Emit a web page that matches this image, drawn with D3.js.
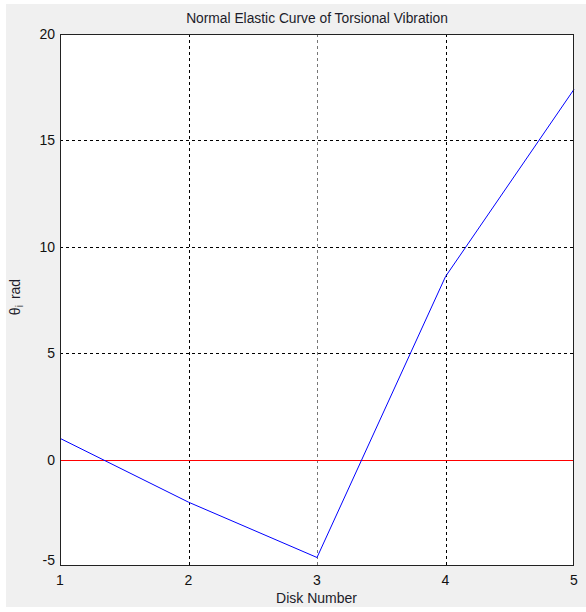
<!DOCTYPE html>
<html>
<head>
<meta charset="utf-8">
<title>Normal Elastic Curve</title>
<script src="https://d3js.org/d3.v7.min.js"></script>
<style>
  body { margin: 0; background: #fff; }
  text { font-family: 'Liberation Sans', Arial, sans-serif; fill: #1c1c2a; }
</style>
</head>
<body>
<svg width="586" height="612"></svg>
<script>
// disk numbers and the normalised angle for each
var disks = [1, 2, 3, 4, 5];
var theta = [1.0, -2.0, -4.6, 8.6, 17.4];
var yTicks = [-5, 0, 5, 10, 15, 20];
var xTicks = [1, 2, 3, 4, 5];

var svg = d3.select("svg");
var pL = 60, pR = 574, pT = 34, pB = 566;

// figure background
svg.append("rect").attr("x", 6).attr("y", 4).attr("width", 580).attr("height", 603).attr("fill", "#f0f0f0");
svg.append("rect").attr("x", pL).attr("y", pT).attr("width", pR - pL).attr("height", pB - pT).attr("fill", "#fff");

var x = d3.scaleLinear().domain([1, 5]).range([pL, pR]);
var y = d3.scaleLinear().domain([-5, 20]).range([pB, pT]);

// grid
svg.append("g").selectAll("line").data(xTicks.slice(1, -1)).join("line")
    .attr("x1", function(d) { return Math.round(x(d)) + 0.5; })
    .attr("x2", function(d) { return Math.round(x(d)) + 0.5; })
    .attr("y1", pT).attr("y2", pB)
    .attr("stroke", function(d) { return d === 3 ? "#777" : "#000"; })
    .attr("stroke-dasharray", "3,3");
svg.append("g").selectAll("line").data(yTicks.slice(1, -1)).join("line")
    .attr("y1", function(d) { return Math.round(y(d)) + 0.5; })
    .attr("y2", function(d) { return Math.round(y(d)) + 0.5; })
    .attr("x1", pL).attr("x2", pR)
    .attr("stroke", "#000")
    .attr("stroke-dasharray", "3,3");

// zero line
svg.append("line")
    .attr("x1", pL).attr("x2", pR)
    .attr("y1", Math.round(y(0)) + 0.5).attr("y2", Math.round(y(0)) + 0.5)
    .attr("stroke", "#ff0000");

// curve
var line = d3.line()
    .x(function(d, i) { return x(disks[i]); })
    .y(function(d) { return y(d); });
svg.append("path").datum(theta)
    .attr("d", line)
    .attr("fill", "none")
    .attr("stroke", "#0000ff")
    .attr("stroke-width", 1);

// axes box
svg.append("rect")
    .attr("x", pL + 0.5).attr("y", pT + 0.5)
    .attr("width", pR - pL - 1).attr("height", pB - pT - 1)
    .attr("fill", "none").attr("stroke", "#222");

// tick labels
svg.append("g").selectAll("text").data(yTicks).join("text")
    .attr("x", pL - 5)
    .attr("y", function(d) { return y(d) + (d === -5 ? -1 : 5); })
    .attr("text-anchor", "end")
    .attr("font-size", 14)
    .style("fill", "#111")
    .text(function(d) { return d; });
svg.append("g").selectAll("text").data(xTicks).join("text")
    .attr("x", function(d) { return x(d); })
    .attr("y", pB + 19)
    .attr("text-anchor", "middle")
    .attr("font-size", 14)
    .style("fill", "#111")
    .text(function(d) { return d; });

// titles
svg.append("text")
    .attr("x", (pL + pR) / 2).attr("y", 23)
    .attr("text-anchor", "middle")
    .attr("font-size", 13.8)
    .text("Normal Elastic Curve of Torsional Vibration");
svg.append("text")
    .attr("x", (pL + pR) / 2 - 0.5).attr("y", 603)
    .attr("text-anchor", "middle")
    .attr("font-size", 14)
    .text("Disk Number");
var yl = svg.append("text")
    .attr("transform", "translate(20,297) rotate(-90)")
    .attr("text-anchor", "middle")
    .attr("font-size", 14);
yl.append("tspan").text("θ");
yl.append("tspan").attr("font-size", 10).attr("dy", 3).text("i");
yl.append("tspan").attr("dy", -3).attr("dx", 6).text("rad");
</script>
</body>
</html>
